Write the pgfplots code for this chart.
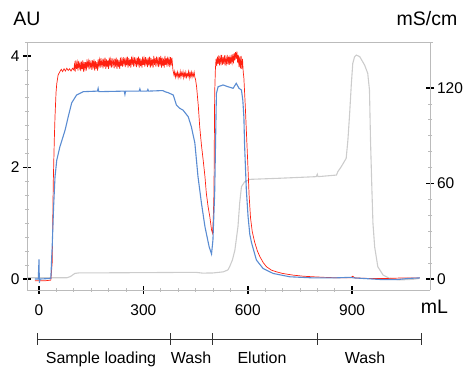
\documentclass[border=0pt]{standalone}
\usepackage{fontspec}
\setmainfont{Liberation Sans}
\usepackage{pgfplots}
\pgfplotsset{compat=1.18}
\definecolor{redline}{HTML}{FF2010}
\definecolor{blueline}{HTML}{5A8CD2}
\definecolor{grayline}{HTML}{CCCCCC}
\definecolor{axgray}{HTML}{BBBBBB}
\pgfplotsset{
  /pgf/number format/assume math mode=true,
  commonax/.style={
    at={(27pt,79pt)}, anchor=south west, scale only axis,
    width=403pt, height=248pt,
    xmin=-34.5, xmax=1124,
    tick align=center,
    major tick length=8pt, minor tick length=4pt,
    every major tick/.append style={black, line width=1.6pt},
    every minor tick/.append style={axgray, line width=0.7pt},
    axis line style={axgray, line width=0.8pt},
    tick label style={font=\fontsize{15.5}{18}\selectfont},
  }
}
\begin{document}
\begin{tikzpicture}[font=\fontsize{16}{19}\selectfont]
\useasboundingbox (0,0) rectangle (463pt,369pt);
% right axis: conductivity
\begin{axis}[commonax,
  ymin=-6.91, ymax=148.9,
  axis x line=none, axis y line*=right,
  ytick={0,60,120}, minor y tick num=5,
  yticklabel style={anchor=west, xshift=-0.5pt},
]
\addplot[grayline, line width=1.1pt] coordinates {
(-35,0.8) (80,0.8) (90,1.5) (103,3.5) (113,3.8) (300,4.0) (450,4.2) (470,3.7) (500,3.8) (530,4.5) (543,5.7) (548,7.7) (556,12) (563,18) (572,33) (577,48) (582,58) (591,61) (606,62.6) (692,63.3) (797,64.3) (800,65.8) (802,64.3) (855,65.3) (859,67.4) (869,70.6) (883,75.8) (888,87.3) (893,104) (898,123) (902,135.5) (907,139.5) (912,140.7) (922,139.7) (936,134.4) (945,129.2) (950,118.7) (953,87) (957,56) (960,35) (965,20) (974,7.7) (989,2.5) (1008,0.4) (1036,-0.6) (1075,-0.2) (1094,0.4)
};
\end{axis}
% left axis: absorbance
\begin{axis}[commonax,
  ymin=-0.197, ymax=4.251,
  axis x line*=bottom, axis y line*=left,
  xtick={0,300,600,900}, minor x tick num=5,
  ytick={0,2,4}, minor y tick num=7,
  xticklabel style={yshift=-7pt},
  yticklabel style={anchor=east, xshift=0pt},
  clip=false,
]
\draw[axgray, line width=0.8pt] (rel axis cs:-0.005,1) -- (rel axis cs:1.007,1);
\addplot[redline, line width=0.7pt] coordinates {
(-12,-0.03) (0,-0.03) (20,-0.03) (34,-0.02) (38,0.3) (41,1.72) (44,2.5) (46,2.91) (49,3.35) (51,3.5) (55,3.66) (60,3.72) (64,3.76) (68,3.72) (72,3.77) (76,3.73) (80,3.78) (84,3.74) (88,3.77) (92,3.73) (96,3.78) (100,3.75) (102,3.85)
(104,3.72) (106,3.92) (108,3.77) (110,3.88) (112,3.74) (114,3.91) (116,3.79) (118,3.86) (120,3.73) (122,3.90) (124,3.76) (126,3.92) (128,3.72) (130,3.89) (132,3.77) (134,3.89) (136,3.74) (138,3.94) (140,3.79) (142,3.90) (144,3.76) (146,3.93) (148,3.81) (150,3.88) (152,3.75) (154,3.92) (156,3.78) (158,3.94) (160,3.74) (162,3.91) (164,3.77) (166,3.89) (168,3.74) (170,3.94)
(172,3.82) (174,3.93) (176,3.79) (178,3.96) (180,3.84) (182,3.91) (184,3.78) (186,3.95) (188,3.81) (190,3.97) (192,3.77) (194,3.94) (196,3.80) (198,3.92) (200,3.77) (202,3.97) (204,3.82) (206,3.93) (208,3.79) (210,3.96) (212,3.84) (214,3.91) (216,3.78) (218,3.95) (220,3.81) (222,3.97) (224,3.77) (226,3.94) (228,3.80) (230,3.92) (232,3.77) (234,3.97) (236,3.82) (238,3.93)
(240,3.81) (242,3.98) (244,3.86) (246,3.93) (248,3.80) (250,3.97) (252,3.83) (254,3.99) (256,3.79) (258,3.96) (260,3.82) (262,3.94) (264,3.79) (266,3.99) (268,3.84) (270,3.95) (272,3.81) (274,3.98) (276,3.86) (278,3.93) (280,3.80) (282,3.97) (284,3.83) (286,3.99) (288,3.79) (290,3.96) (292,3.82) (294,3.94) (296,3.79) (298,3.99) (300,3.84) (302,3.95) (304,3.81) (306,3.98) (308,3.86) (310,3.93) (312,3.80) (314,3.97) (316,3.83) (318,3.99) (320,3.79) (322,3.96) (324,3.82) (326,3.94) (328,3.79) (330,4.00)
(332,3.84) (334,3.96) (336,3.81) (338,3.99) (340,3.86) (342,3.94) (344,3.80) (346,3.98) (348,3.83) (350,4.00) (352,3.79) (354,3.97) (356,3.82) (358,3.95) (360,3.79) (362,4.00) (364,3.84) (366,3.96) (368,3.81) (370,3.99) (372,3.86) (374,3.94) (376,3.80) (378,3.98) (380,3.83) (382,3.97) (385,3.75) (388,3.66)
(390,3.72) (392,3.62) (394,3.69) (396,3.64) (398,3.71) (400,3.61) (402,3.68) (404,3.63) (406,3.72) (408,3.62) (410,3.70) (412,3.65) (414,3.72) (416,3.61) (418,3.69) (420,3.63) (422,3.71) (424,3.62) (426,3.68) (428,3.64) (430,3.72) (432,3.61) (434,3.70) (436,3.63) (438,3.71) (440,3.62) (442,3.69) (444,3.64) (446,3.71) (448,3.62) (450,3.58)
(453,3.45) (458,3.1) (462,2.73) (467,2.4) (472,2.13) (477,1.84) (481,1.54) (486,1.3) (491,1.12) (496,0.88) (499,0.82) (501,1.1) (503,1.54) (505,3.33) (507,3.75)
(509,3.95) (511,3.82) (513,3.99) (515,3.86) (517,4.01) (519,3.83) (521,3.97) (523,3.88) (525,4.02) (527,3.84) (529,3.98) (531,3.86) (533,4.01) (535,3.83) (537,3.96) (539,3.87) (541,4.02) (543,3.85) (545,3.99) (547,3.84) (549,4.01) (551,3.86) (553,3.98) (555,3.88) (557,4.03) (559,3.87) (561,4.05) (563,3.92) (565,4.07) (567,3.95) (569,4.08) (571,3.88) (573,4.02) (575,3.80) (577,3.99) (579,3.78) (581,4.0) (583,3.77) (585,3.95) (587,3.72)
(589,3.6) (593,3.1) (596,2.67) (600,2.1) (604,1.5) (608,1.1) (613,0.85) (620,0.66) (628,0.5) (635,0.40) (645,0.29) (654,0.22) (668,0.16) (682,0.13) (700,0.10) (730,0.07) (760,0.05) (788,0.04) (820,0.03) (864,0.02) (895,0.02) (902,0.05) (908,0.02) (950,0.01) (1000,0.01) (1050,0.02) (1095,0.02)
};
\addplot[blueline, line width=1.1pt] coordinates {
(-12,0.0) (-2,0.0) (0,0.35) (1,-0.07) (3,0.0) (34,0.01) (38,0.6) (42,1.3) (46,1.83) (51,2.13) (60,2.37) (75,2.67) (84,2.91) (94,3.16) (108,3.3) (127,3.36) (168,3.37) (170,3.42) (172,3.36) (245,3.37) (247,3.31) (249,3.37) (288,3.37) (290,3.41) (292,3.37) (311,3.37) (313,3.40) (315,3.37) (356,3.38) (362,3.36) (372,3.34) (386,3.30) (395,3.12) (405,3.06) (414,3.03) (429,2.91) (438,2.73) (448,2.44) (457,1.84) (467,1.36) (477,0.94) (489,0.58) (496,0.45) (500,0.7) (505,1.54) (510,3.33) (515,3.45) (529,3.48) (543,3.45) (558,3.42) (567,3.51) (575,3.42) (582,3.39) (586,3.2) (589,2.9) (591,2.4) (596,1.6) (601,1.12) (606,0.8) (611,0.65) (620,0.45) (625,0.34) (644,0.19) (673,0.1) (721,0.04) (788,0.02) (850,0.02) (895,0.03) (905,0.02) (985,-0.01) (1030,-0.01) (1060,0.01) (1095,0.02)
};
\end{axis}
% unit labels
\node[font=\fontsize{19.5}{22}\selectfont, anchor=base] at (27pt,343pt) {AU};
\node[font=\fontsize{19.5}{22}\selectfont, anchor=base] at (427pt,343pt) {mS/cm};
\node[font=\fontsize{19.5}{22}\selectfont, anchor=base] at (434.5pt,55pt) {mL};
% phase bracket
\draw[black!80, line width=0.9pt] (37pt,30pt) -- (421pt,30pt);
\foreach \xx in {37,170,212,317,421} {\draw[black!80, line width=0.9pt] (\xx pt,24pt) -- (\xx pt,36pt);}
\node[anchor=base] at (101pt,5.7pt) {Sample loading};
\node[anchor=base] at (191pt,5.7pt) {Wash};
\node[anchor=base] at (262pt,5.7pt) {Elution};
\node[anchor=base] at (365pt,5.7pt) {Wash};
\end{tikzpicture}
\end{document}
